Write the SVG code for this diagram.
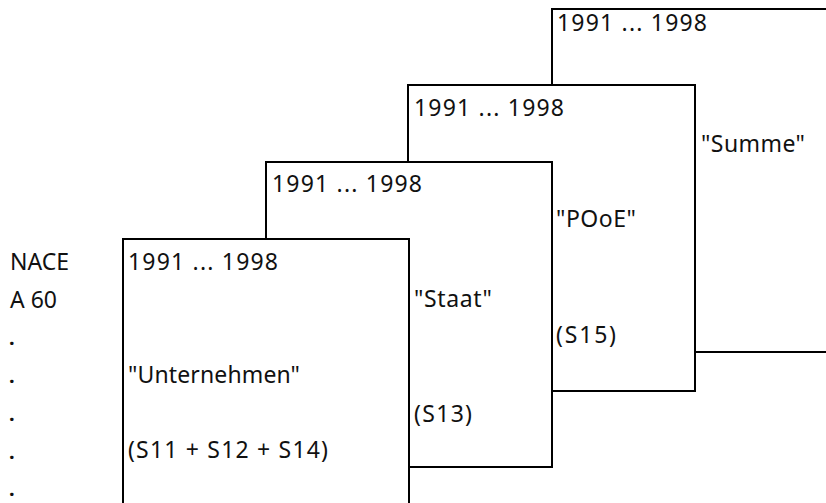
<svg xmlns="http://www.w3.org/2000/svg" width="826" height="503" viewBox="0 0 826 503">
<style>
.box{fill:#fff;stroke:#000;stroke-width:2}
text{font-family:"Noto Sans","Open Sans",sans-serif;font-size:23px;fill:#111}
.dot{font-weight:bold;font-size:20px}
</style>
<rect width="826" height="503" fill="#fff"/>
<g id="box-summe">
<rect class="box" x="552" y="9" width="300" height="343"/>
<text x="557" y="31" textLength="150" lengthAdjust="spacing">1991 ... 1998</text>
<text x="701" y="152" textLength="104" lengthAdjust="spacing">"Summe"</text>
</g>
<g id="box-pooe">
<rect class="box" x="408" y="85" width="287" height="306"/>
<text x="414" y="116" textLength="150" lengthAdjust="spacing">1991 ... 1998</text>
<text x="556" y="227" textLength="80" lengthAdjust="spacing">"POoE"</text>
<text x="556" y="343" textLength="60" lengthAdjust="spacing">(S15)</text>
</g>
<g id="box-staat">
<rect class="box" x="266" y="162" width="286" height="305"/>
<text x="272" y="192" textLength="150" lengthAdjust="spacing">1991 ... 1998</text>
<text x="414" y="307" textLength="78" lengthAdjust="spacing">"Staat"</text>
<text x="414" y="422" textLength="58" lengthAdjust="spacing">(S13)</text>
</g>
<g id="box-unternehmen">
<rect class="box" x="123" y="239" width="286" height="305"/>
<text x="128" y="270" textLength="150" lengthAdjust="spacing">1991 ... 1998</text>
<text x="128" y="383" textLength="172" lengthAdjust="spacing">"Unternehmen"</text>
<text x="128" y="458" textLength="200" lengthAdjust="spacing">(S11 + S12 + S14)</text>
</g>
<g id="nace">
<text x="10" y="270" textLength="59" lengthAdjust="spacing">NACE</text>
<text x="10" y="308" textLength="47" lengthAdjust="spacing">A 60</text>
<text class="dot" x="9" y="345">.</text>
<text class="dot" x="9" y="383">.</text>
<text class="dot" x="9" y="421">.</text>
<text class="dot" x="9" y="459">.</text>
<text class="dot" x="9" y="496">.</text>
</g>
<g id="connectors"/>
</svg>
